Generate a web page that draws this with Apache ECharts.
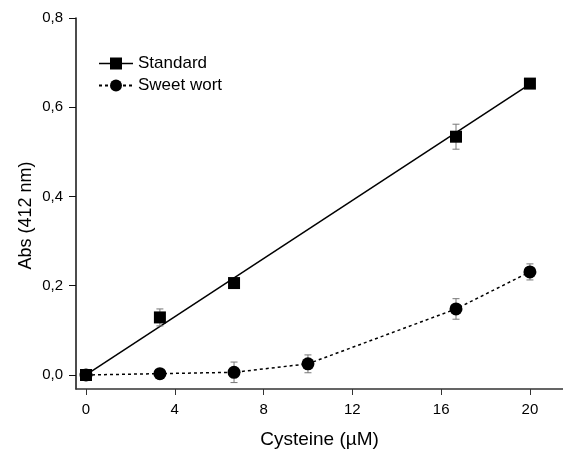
<!DOCTYPE html>
<html><head><meta charset="utf-8">
<script src="https://cdn.jsdelivr.net/npm/echarts@6/dist/echarts.min.js"></script>
<style>html,body{margin:0;padding:0;background:#fff}#c{width:563px;height:449px}</style>
</head><body><div id="c"></div>
<script>
// ---- data ----
const xTicks = [0, 4, 8, 12, 16, 20];
const yTicks = [0, 0.2, 0.4, 0.6, 0.8];
const stdX = [0, 3.33, 6.67, 16.67, 20];
const stdY = [0, 0.129, 0.206, 0.534, 0.653];
const stdErr = [0, 0.019, 0.004, 0.028, 0.004];
const fitX = [0, 20];
const fitY = [0, 0.652];
const wortX = [0, 3.33, 6.67, 10, 16.67, 20];
const wortY = [0, 0.003, 0.006, 0.025, 0.148, 0.231];
const wortErr = [0, 0.003, 0.023, 0.02, 0.023, 0.018];
const seriesNames = ['Standard', 'Sweet wort'];
const xTitle = 'Cysteine (µM)';
const yTitle = 'Abs (412 nm)';
// ---------------

const FONT = '"Liberation Sans", Arial, Helvetica, sans-serif';
const zip = (a, b) => a.map((v, i) => [v, b[i]]);
const zip3 = (a, b, c) => a.map((v, i) => [v, b[i], c[i]]);

function errRender(params, api) {
  const x = api.value(0), y = api.value(1), e = api.value(2);
  const top = api.coord([x, y + e]);
  const bot = api.coord([x, y - e]);
  const hw = 3.5;
  const st = { stroke: '#777', lineWidth: 1 };
  return {
    type: 'group',
    children: [
      { type: 'line', shape: { x1: top[0], y1: top[1], x2: bot[0], y2: bot[1] }, style: st },
      { type: 'line', shape: { x1: top[0] - hw, y1: top[1], x2: top[0] + hw, y2: top[1] }, style: st },
      { type: 'line', shape: { x1: bot[0] - hw, y1: bot[1], x2: bot[0] + hw, y2: bot[1] }, style: st }
    ]
  };
}

const chart = echarts.init(document.getElementById('c'), null, { renderer: 'canvas' });
chart.setOption({
  backgroundColor: '#fff',
  animation: false,
  textStyle: { fontFamily: FONT },
  grid: { left: 76, right: 0, top: 18, bottom: 60, containLabel: false, outerBoundsMode: 'none' },
  legend: {
    orient: 'vertical',
    left: 93, top: 50,
    itemWidth: 34, itemHeight: 15, itemGap: 5,
    textStyle: { fontFamily: FONT, fontSize: 17, color: '#000' },
    data: [
      { name: seriesNames[0], lineStyle: { opacity: 1, width: 1.5, color: '#000', type: 'solid' } },
      { name: seriesNames[1] }
    ]
  },
  xAxis: {
    type: 'value', min: -0.45, max: 21.49,
    splitLine: { show: false },
    axisLine: { onZero: false, lineStyle: { color: '#333', width: 1.5 } },
    axisTick: { length: 6, customValues: xTicks, lineStyle: { color: '#333', width: 1 } },
    axisLabel: { customValues: xTicks, margin: 13, fontSize: 15, color: '#000', fontFamily: FONT },
    name: xTitle, nameLocation: 'middle', nameGap: 41,
    nameTextStyle: { fontSize: 19, color: '#000', fontFamily: FONT }
  },
  yAxis: {
    type: 'value', min: -0.0314, max: 0.8,
    splitLine: { show: false },
    axisLine: { show: true, onZero: false, lineStyle: { color: '#111', width: 1.5 } },
    axisTick: { show: true, length: 7, customValues: yTicks, lineStyle: { color: '#111', width: 1 } },
    axisLabel: {
      customValues: yTicks, margin: 13, fontSize: 15, color: '#000', fontFamily: FONT,
      formatter: v => v.toFixed(1).replace('.', ',')
    },
    name: yTitle, nameLocation: 'middle', nameGap: 41, nameMoveOverlap: false,
    nameTextStyle: { fontSize: 18, color: '#000', fontFamily: FONT, padding: [0, 24, 0, 0] }
  },
  series: [
    {
      name: 'fit', type: 'line', data: zip(fitX, fitY), symbol: 'none',
      lineStyle: { color: '#000', width: 1.5 }, z: 2, silent: true
    },
    {
      name: 'stdErr', type: 'custom', renderItem: errRender, data: zip3(stdX, stdY, stdErr), z: 3
    },
    {
      name: 'wortErr', type: 'custom', renderItem: errRender, data: zip3(wortX, wortY, wortErr), z: 3
    },
    {
      name: seriesNames[0], type: 'line', data: zip(stdX, stdY),
      symbol: 'rect', symbolSize: 12,
      itemStyle: { color: '#000' },
      lineStyle: { width: 0, opacity: 0 }, z: 5
    },
    {
      name: seriesNames[1], type: 'line', data: zip(wortX, wortY),
      symbol: 'circle', symbolSize: 13,
      itemStyle: { color: '#000' },
      lineStyle: { color: '#000', width: 1.5, type: [3, 3] }, z: 5
    }
  ]
});
</script>
</body></html>
